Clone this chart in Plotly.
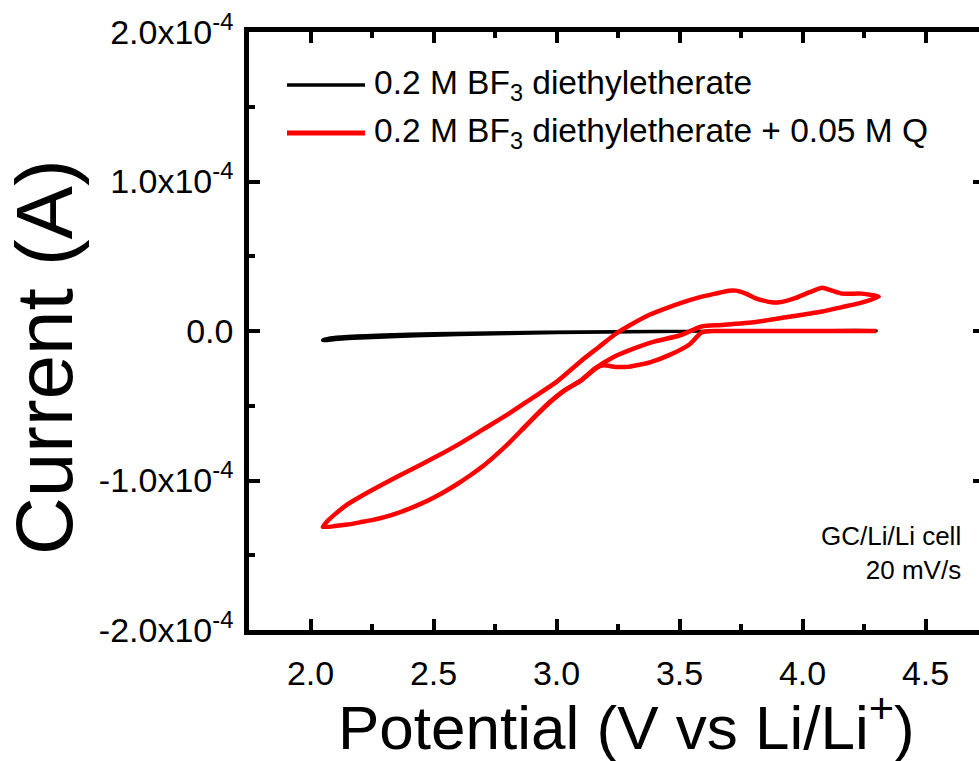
import plotly.graph_objects as go

# Cyclic voltammograms, glassy carbon working electrode, Li counter/reference
# Potential in V vs Li/Li+, current in units of 1e-4 A

# 0.2 M BF3 diethyletherate (forward then return sweep)
black_v = [2.05, 2.10, 2.20, 2.35, 2.50, 2.70, 2.90, 3.10, 3.30, 3.50, 3.70, 4.00, 4.30,
           4.30, 4.00, 3.70, 3.40, 3.10, 2.80, 2.50, 2.30, 2.15, 2.08, 2.05, 2.05]
black_i = [-0.065, -0.058, -0.048, -0.038, -0.030, -0.022, -0.015, -0.010, -0.006, -0.003, -0.001, 0.0, 0.0,
           0.003, 0.002, 0.0, -0.002, -0.005, -0.010, -0.017, -0.025, -0.035, -0.045, -0.058, -0.065]

# 0.2 M BF3 diethyletherate + 0.05 M Q
# first anodic sweep from open circuit
red_first_v = [2.86, 2.92, 2.97, 3.03, 3.10, 3.16, 3.19, 3.24, 3.29, 3.34, 3.38, 3.46, 3.54, 3.59, 3.65, 3.80, 4.05, 4.30]
red_first_i = [-0.66, -0.56, -0.48, -0.40, -0.33, -0.25, -0.23, -0.24, -0.24, -0.225, -0.21, -0.16, -0.09, -0.01, 0.0, 0.0, 0.0, 0.0]
# full cycle: cathodic sweep from 4.3 V down to 2.05 V, then anodic sweep back to 4.3 V
red_cycle_v = [4.31, 4.24, 4.16, 4.08, 3.945, 3.81, 3.67, 3.59, 3.50, 3.40, 3.295, 3.225, 3.157, 3.10,
               3.03, 2.97, 2.92, 2.86, 2.80, 2.75, 2.70, 2.65, 2.60, 2.55, 2.50, 2.45, 2.40, 2.35,
               2.30, 2.25, 2.20, 2.15, 2.10, 2.05,
               2.07, 2.10, 2.15, 2.20, 2.30, 2.40, 2.50, 2.60, 2.70, 2.80, 2.90, 3.00, 3.10, 3.17,
               3.24, 3.30, 3.38, 3.45, 3.51, 3.58, 3.645, 3.70, 3.73, 3.77, 3.807, 3.85, 3.89, 3.93,
               3.97, 4.03, 4.08, 4.12, 4.16, 4.24, 4.31]
red_cycle_i = [0.23, 0.19, 0.16, 0.13, 0.095, 0.06, 0.04, 0.03, -0.03, -0.07, -0.13, -0.18, -0.25, -0.33,
               -0.40, -0.48, -0.56, -0.66, -0.76, -0.835, -0.905, -0.965, -1.02, -1.07, -1.115, -1.155,
               -1.19, -1.22, -1.245, -1.265, -1.28, -1.295, -1.305, -1.31,
               -1.27, -1.225, -1.16, -1.11, -1.02, -0.935, -0.85, -0.76, -0.66, -0.56, -0.45, -0.34,
               -0.20, -0.11, -0.02, 0.04, 0.11, 0.155, 0.19, 0.225, 0.25, 0.27, 0.27, 0.25, 0.22,
               0.20, 0.19, 0.20, 0.22, 0.26, 0.29, 0.27, 0.25, 0.25, 0.23]

SCALE = 1e-4
x_ticks = [2.0, 2.5, 3.0, 3.5, 4.0, 4.5]
x_tick_text = ["2.0", "2.5", "3.0", "3.5", "4.0", "4.5"]
x_minor = [2.25, 2.75, 3.25, 3.75, 4.25]
y_ticks = [-2e-4, -1e-4, 0.0, 1e-4, 2e-4]
y_tick_text = ["-2.0x10<sup>-4</sup>", "-1.0x10<sup>-4</sup>", "0.0",
               "1.0x10<sup>-4</sup>", "2.0x10<sup>-4</sup>"]
y_minor = [-1.5e-4, -0.5e-4, 0.5e-4, 1.5e-4]

legend_names = ["0.2 M BF<sub>3</sub> diethyletherate",
                "0.2 M BF<sub>3</sub> diethyletherate + 0.05 M Q"]
colors = ["#000000", "#ff0000"]

W, H = 979, 761
L, R, T, B = 249, 0, 32, 131
FONT = "Liberation Sans, Arial, sans-serif"


def px(xp):
    return (xp - L) / (W - L - R)


def py(yp):
    return (H - B - yp) / (H - T - B)


red_v = red_first_v + [None] + red_cycle_v
red_i = [v * SCALE for v in red_first_i] + [None] + [v * SCALE for v in red_cycle_i]

fig = go.Figure()
fig.add_trace(go.Scatter(
    x=black_v, y=[v * SCALE for v in black_i], mode="lines",
    line=dict(color=colors[0], width=3, shape="spline", smoothing=0.6),
    showlegend=False, yaxis="y"))
fig.add_trace(go.Scatter(
    x=red_v, y=red_i, mode="lines", connectgaps=False,
    line=dict(color=colors[1], width=4.5, shape="spline", smoothing=0.6),
    showlegend=False, yaxis="y2"))

x_lo = 1.75
x_hi = x_lo + (W - L - R) / 246.0

axis_common = dict(showgrid=False, zeroline=False, linecolor="black", tickcolor="black")

fig.update_layout(
    width=W, height=H,
    margin=dict(l=L, r=R, t=T, b=B, pad=0),
    paper_bgcolor="white", plot_bgcolor="white",
    font=dict(family=FONT, color="black"),
    showlegend=False,
    xaxis=dict(range=[x_lo, x_hi], tickvals=x_ticks, ticktext=x_tick_text,
               ticks="inside", ticklen=11, tickwidth=3.5, showline=True, linewidth=4.5,
               mirror="ticks", tickfont=dict(size=34, family=FONT), ticklabelstandoff=9,
               minor=dict(tickvals=x_minor, ticks="inside", ticklen=6, tickwidth=3.5, tickcolor="black"),
               **axis_common),
    yaxis=dict(range=[-2e-4, 2e-4], tickvals=y_ticks, ticktext=y_tick_text,
               ticks="inside", ticklen=11, tickwidth=3.5, showline=True, linewidth=4.5,
               mirror=False, tickfont=dict(size=34, family=FONT), ticklabelstandoff=4,
               minor=dict(tickvals=y_minor, ticks="inside", ticklen=6, tickwidth=3.5, tickcolor="black"),
               **axis_common),
    yaxis2=dict(range=[-2e-4, 2e-4], overlaying="y", side="right", tickvals=y_ticks,
                ticks="inside", ticklen=6, tickwidth=3.5, showline=False, showticklabels=False,
                **axis_common),
)

# axis titles
fig.add_annotation(text="Potential (V vs Li/Li<sup>+</sup>)", xref="paper", yref="paper",
                   x=px(626), y=py(723), xanchor="center", yanchor="middle", showarrow=False,
                   font=dict(size=62, family=FONT))
fig.add_annotation(text="Current (A)", xref="paper", yref="paper", textangle=-90,
                   x=px(44), y=py(357), xanchor="center", yanchor="middle", showarrow=False,
                   font=dict(size=80, family=FONT))

# legend: line samples and labels
for name, col, yy, lw in zip(legend_names, colors, [85, 133], [3.5, 5]):
    fig.add_shape(type="line", xref="paper", yref="paper",
                  x0=px(287), x1=px(365), y0=py(yy), y1=py(yy),
                  line=dict(color=col, width=lw))
    fig.add_annotation(text=name, xref="paper", yref="paper", x=px(372), y=py(yy),
                       xanchor="left", yanchor="middle", showarrow=False,
                       font=dict(size=33.5, family=FONT))

# cell and scan-rate note
fig.add_annotation(text="GC/Li/Li cell<br>20 mV/s", xref="paper", yref="paper",
                   x=px(963), y=py(553), xanchor="right", yanchor="middle", align="right",
                   showarrow=False, font=dict(size=26, family=FONT))

fig.write_html("out.html")
